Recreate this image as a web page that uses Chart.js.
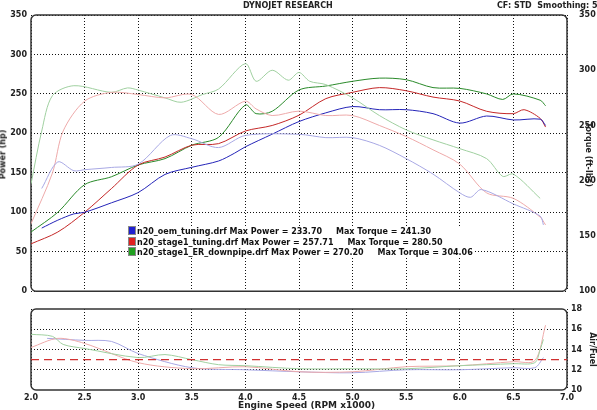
<!DOCTYPE html>
<html><head><meta charset="utf-8">
<script src="https://cdn.jsdelivr.net/npm/chart.js@4"></script>
<style>
body{margin:0;background:#fff;width:597px;height:410px;position:relative;overflow:hidden;font-family:"DejaVu Sans",Verdana,sans-serif;}
canvas{position:absolute;left:0;}
.t{position:absolute;font-size:8px;font-weight:bold;color:#222;white-space:nowrap;}
.leg{position:absolute;left:128px;top:226px;font-size:8px;font-weight:bold;color:#111;line-height:9.5px;background:#fff;}
.leg span{display:inline-block;width:6px;height:7px;margin-right:1px;vertical-align:-1px;border:1px solid #888;}
</style></head><body>
<canvas id="top" width="597" height="300" style="top:0"></canvas>
<canvas id="bot" width="597" height="110" style="top:300px"></canvas>
<div class="t" style="left:243px;top:1px">DYNOJET RESEARCH</div>
<div class="t" style="left:497px;top:1px">CF: STD&nbsp; Smoothing: 5</div>
<div class="t" style="left:-22px;top:150px;transform:rotate(-90deg)">Power (hp)</div>
<div class="t" style="left:556px;top:150px;transform:rotate(90deg)">Torque (ft-lbs)</div>
<div class="t" style="left:575px;top:345px;transform:rotate(90deg)">Air/Fuel</div>
<div class="t" style="left:238px;top:400px;font-size:9px">Engine Speed (RPM x1000)</div>
<div class="leg">
<div><span style="background:#2020d0"></span>n20_oem_tuning.drf Max Power = 233.70&nbsp;&nbsp;&nbsp;&nbsp; Max Torque = 241.30</div>
<div><span style="background:#e02020"></span>n20_stage1_tuning.drf Max Power = 257.71&nbsp;&nbsp;&nbsp;&nbsp; Max Torque = 280.50</div>
<div><span style="background:#20a020"></span>n20_stage1_ER_downpipe.drf Max Power = 270.20&nbsp;&nbsp;&nbsp;&nbsp; Max Torque = 304.06</div>
</div>
<script>
const xTicks=[2.0,2.5,3.0,3.5,4.0,4.5,5.0,5.5,6.0,6.5,7.0];
const oemPowRpm=[2.1,2.25,2.4,2.5,2.75,3.0,3.25,3.5,3.75,3.9,4.0,4.25,4.5,4.75,5.0,5.25,5.5,5.75,6.0,6.25,6.5,6.75,6.8];
const oemPow=[80,90,98,100,112,125,148,157,165,175,183,199,215,226,234,230,230,225,213,222,217,218,210];
const st1PowRpm=[2.0,2.25,2.5,2.75,3.0,3.25,3.5,3.75,4.0,4.25,4.5,4.75,5.0,5.25,5.5,5.75,6.0,6.25,6.5,6.6,6.75,6.8];
const st1Pow=[60,75,100,130,160,170,185,187,203,210,223,244,252,258,254,246,241,228,225,230,219,208];
const dpPowRpm=[2.0,2.25,2.5,2.75,3.0,3.25,3.5,3.75,4.0,4.1,4.25,4.5,4.75,5.0,5.25,5.5,5.75,6.0,6.25,6.4,6.5,6.75,6.8];
const dpPow=[75,100,135,145,160,168,185,195,236,225,228,255,260,266,270,268,258,257,250,243,250,242,235];
const oemTqRpm=[2.1,2.25,2.4,2.5,2.75,3.0,3.3,3.5,3.75,4.0,4.5,4.75,5.0,5.25,5.5,5.75,6.0,6.1,6.2,6.5,6.75,6.78];
const oemTq=[193,217,209,210,212,215,241,238,230,241,242,239,239,232,220,206,189,185,192,179,168,160];
const st1TqRpm=[2.0,2.2,2.3,2.5,2.75,3.0,3.25,3.5,3.75,4.0,4.1,4.25,4.5,4.75,5.0,5.25,5.5,5.75,6.0,6.25,6.5,6.75,6.8];
const st1Tq=[161,207,245,272,280,278,275,278,260,272,265,259,263,259,259,250,240,228,215,189,184,167,160];
const dpTqRpm=[2.0,2.1,2.2,2.4,2.75,2.9,3.0,3.25,3.4,3.6,3.75,4.0,4.1,4.25,4.4,4.5,4.6,4.75,5.0,5.25,5.5,5.75,6.0,6.25,6.4,6.5,6.75];
const dpTq=[197,245,277,286,280,284,282,275,271,278,283,306,290,300,291,298,290,287,275,259,246,237,229,220,204,206,184];
const afrTarget=13;
const dpAfrRpm=[2.0,2.2,2.3,2.5,3.0,3.25,3.5,3.75,4.0,4.5,5.0,5.5,6.0,6.5,6.7,6.75,6.78];
const dpAfr=[15.5,15.3,14.5,14.1,13.2,13.5,13.0,12.5,12.4,12.1,12.1,12.1,12.4,12.6,12.7,14,15];
const st1AfrRpm=[2.0,2.25,2.5,3.0,3.5,4.0,4.5,5.0,5.5,6.0,6.5,6.7,6.8];
const st1Afr=[14.2,15.1,14.6,12.7,12.1,12.3,11.8,11.8,12.3,12.4,12.8,12.9,16.4];
const oemAfrRpm=[2.15,2.5,2.75,3.0,3.5,4.0,4.5,5.0,5.5,6.0,6.5,6.7,6.78];
const oemAfr=[15.1,14.9,14.8,13.6,12.2,12.0,11.8,11.7,12.0,12.0,12.2,12.2,13.2];

const pts=(xs,ys)=>xs.map((x,i)=>({x,y:ys[i]}));
const C={b:'#2424b8',r:'#c42828',g:'#2a8a2a',lb:'#a8a8e4',lr:'#eeaaaa',lg:'#a0d0a0'};
const ds=(d,c,ax)=>({data:d,borderColor:c,borderWidth:1,pointRadius:0,tension:0.3,yAxisID:ax,fill:false});
const dotted={color:'#111',lineWidth:1,drawTicks:false};
const dash={display:false,dash:[1,2]};
const font={family:'DejaVu Sans',size:8,weight:'bold'};
const frame={id:'frame',beforeDatasetsDraw(ch){const a=ch.chartArea,c=ch.ctx;c.save();c.strokeStyle='#333';c.lineWidth=1.5;c.beginPath();c.roundRect(a.left,a.top,a.right-a.left,a.bottom-a.top,5);c.stroke();c.restore();}};
const xAxis=(show)=>({type:'linear',min:2,max:7,afterBuildTicks:s=>{s.ticks=xTicks.map(v=>({value:v}));},
  grid:{...dotted,display:true},border:dash,
  ticks:{display:show,color:'#222',font,padding:3,callback:v=>v.toFixed(1),maxRotation:0},
  afterFit:s=>{s.height=show?20:3;}});

new Chart(document.getElementById('top'),{type:'line',
 data:{datasets:[ds(pts(oemTqRpm,oemTq),C.lb,'yT'),ds(pts(st1TqRpm,st1Tq),C.lr,'yT'),ds(pts(dpTqRpm,dpTq),C.lg,'yT'),
   ds(pts(oemPowRpm,oemPow),C.b,'yP'),ds(pts(st1PowRpm,st1Pow),C.r,'yP'),ds(pts(dpPowRpm,dpPow),C.g,'yP')]},
 options:{responsive:false,animation:false,layout:{padding:{top:15}},plugins:{legend:{display:false},tooltip:{enabled:false}},
  scales:{x:xAxis(false),
   yP:{position:'left',min:0,max:350,ticks:{stepSize:50,color:'#222',font,padding:4},grid:dotted,border:dash,afterFit:s=>{s.width=31;}},
   yT:{position:'right',min:100,max:350,ticks:{stepSize:50,color:'#222',font,padding:4},grid:{display:false},border:{display:false},afterFit:s=>{s.width=30;}}}},
 plugins:[frame]});

new Chart(document.getElementById('bot'),{type:'line',
 data:{datasets:[
  {data:[{x:2,y:afrTarget},{x:7,y:afrTarget}],borderColor:'#d03030',borderWidth:1.2,borderDash:[8,5],pointRadius:0,yAxisID:'yA'},
  ds(pts(dpAfrRpm,dpAfr),C.lg,'yA'),ds(pts(st1AfrRpm,st1Afr),C.lr,'yA'),ds(pts(oemAfrRpm,oemAfr),C.lb,'yA')]},
 options:{responsive:false,animation:false,layout:{padding:{top:9}},plugins:{legend:{display:false},tooltip:{enabled:false}},
  scales:{x:xAxis(true),
   yL:{position:'left',min:10,max:18,ticks:{display:false},grid:{display:false},border:{display:false},afterFit:s=>{s.width=31;}},
   yA:{position:'right',min:10,max:18,ticks:{stepSize:2,color:'#222',font,padding:4},grid:{...dotted,color:c=>(c.tick.value>10&&c.tick.value<18)?'#111':'rgba(0,0,0,0)'},border:dash,afterFit:s=>{s.width=30;}}}},
 plugins:[frame]});
</script>
</body></html>
